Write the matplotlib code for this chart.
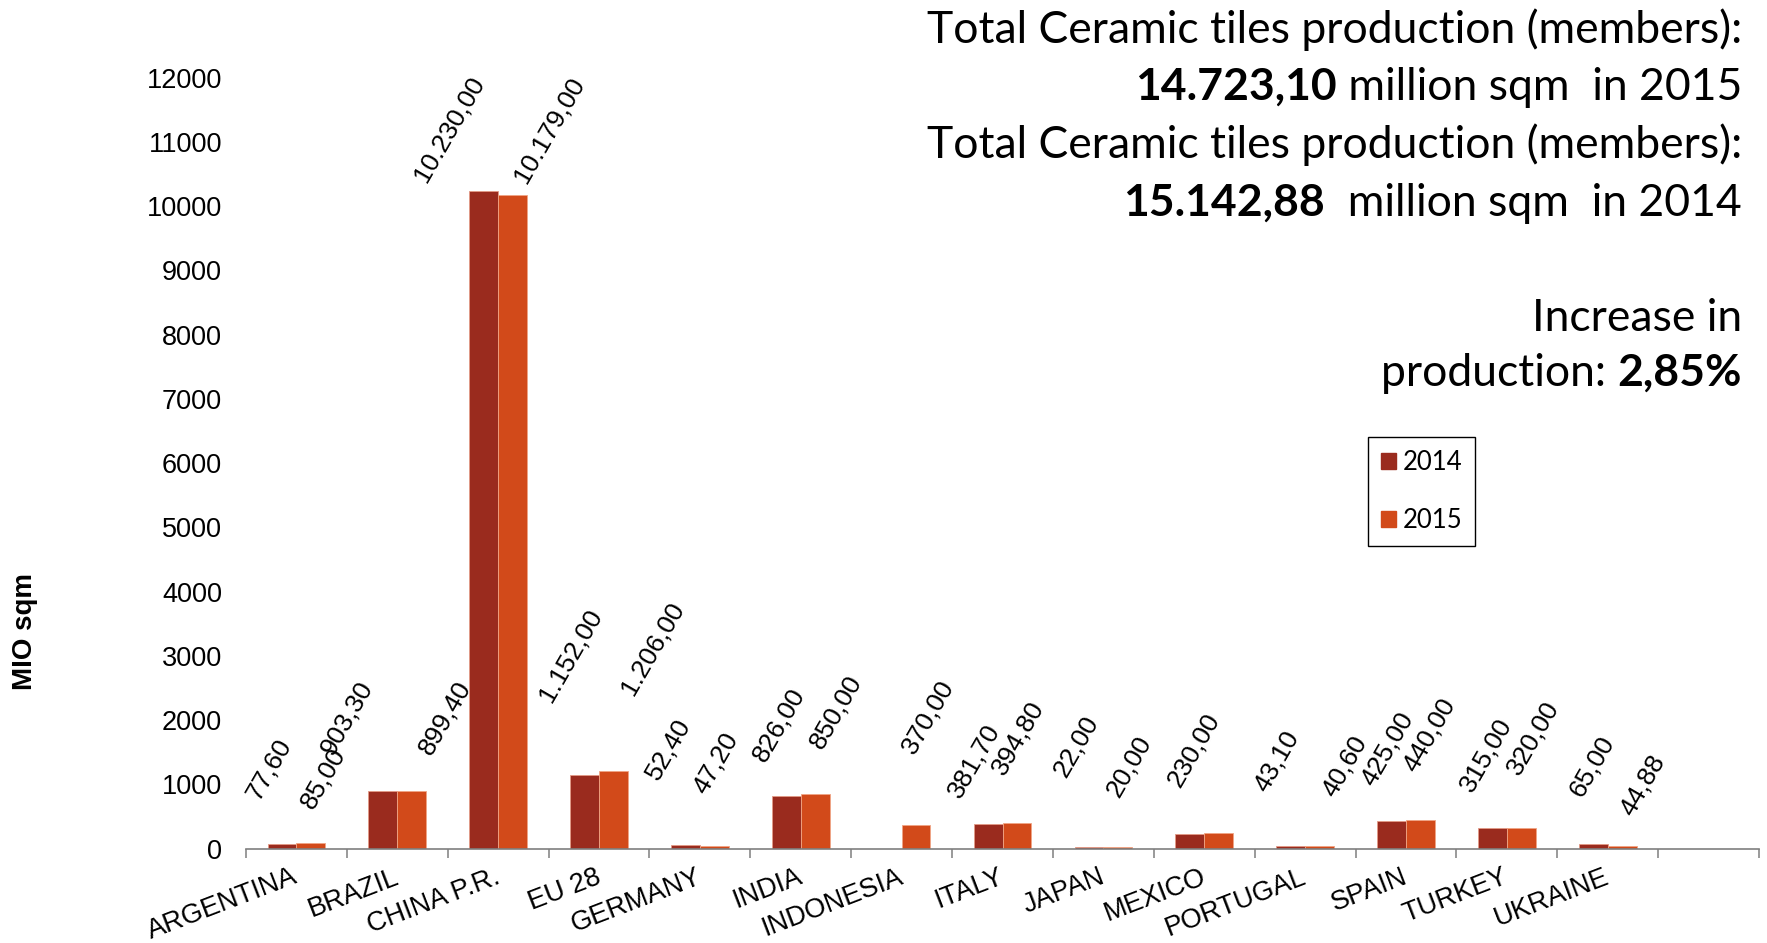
import numpy as np
import matplotlib
matplotlib.use("Agg")
import matplotlib.pyplot as plt
from matplotlib.patches import Patch
from matplotlib.transforms import ScaledTranslation

# production of ceramic tiles, million sqm
countries = ["ARGENTINA", "BRAZIL", "CHINA P.R.", "EU 28", "GERMANY", "INDIA",
             "INDONESIA", "ITALY", "JAPAN", "MEXICO", "PORTUGAL", "SPAIN",
             "TURKEY", "UKRAINE", ""]
prod_2014 = [77.60, 903.30, 10230.00, 1152.00, 52.40, 826.00, np.nan, 381.70,
             22.00, 230.00, 43.10, 425.00, 315.00, 65.00, np.nan]
prod_2015 = [85.00, 899.40, 10179.00, 1206.00, 47.20, 850.00, 370.00, 394.80,
             20.00, 250.00, 40.60, 440.00, 320.00, 44.88, np.nan]
# value labels that are not printed on the chart
no_label_2015 = {"MEXICO"}

total_2015 = "14.723,10"
total_2014 = "15.142,88"
increase = "2,85%"

# hand nudges for the rotated value labels (pixels from bar top centre)
nudge_2014 = [(-13, 74), (-36, 73), (-35, 62), (-14, 119), (-17, 96), (-7, 71),
              (0, 0), (-14, 63), (-13, 101), (4, 84), (-14, 85), (-4, 72),
              (-6, 73), (-1, 78), (0, 0)]
nudge_2015 = [(12, 65), (33, 73), (37, 65), (39, 123), (2, 82), (21, 82),
              (12, 108), (1, 85), (11, 81), (0, 0), (25, 80), (9, 85),
              (12, 90), (21, 60), (0, 0)]

C14 = "#9a2b1e"
C15 = "#d24a1a"
NUM_FONT = "Liberation Sans"
TXT_FONT = "Lato"

W, H = 1767, 943
fig = plt.figure(figsize=(W / 100, H / 100), dpi=100)
ax = fig.add_axes([246 / W, 1 - 848.6 / H, (1759 - 246) / W, (848.6 - 77.8) / H])

n = len(countries)
x = np.arange(n) + 0.5
bw = 1 / 3.5
y14 = np.array(prod_2014, dtype=float)
y15 = np.array(prod_2015, dtype=float)
ax.bar(x - bw / 2, np.nan_to_num(y14), bw, color=C14, edgecolor="#e39a86",
       linewidth=0.6, zorder=2)
ax.bar(x + bw / 2, np.nan_to_num(y15), bw, color=C15, edgecolor="#f0a585",
       linewidth=0.6, zorder=2)


def euro(v):
    s = f"{v:,.2f}"
    return s.replace(",", "#").replace(".", ",").replace("#", ".")


for i in range(n):
    for vals, nud, off, skip in ((y14, nudge_2014, -bw / 2, set()),
                                 (y15, nudge_2015, bw / 2, no_label_2015)):
        v = vals[i]
        if np.isnan(v) or countries[i] in skip:
            continue
        ax.annotate(euro(v), (x[i] + off, v), xytext=nud[i],
                    textcoords="offset pixels", rotation=60,
                    rotation_mode="anchor", ha="center", va="center",
                    fontsize=19, family=NUM_FONT, color="black", zorder=3)

ax.set_xlim(0, n)
ax.set_ylim(0, 12000)
for s in ("left", "top", "right"):
    ax.spines[s].set_visible(False)
ax.spines["bottom"].set_color("#7f7f7f")
ax.spines["bottom"].set_linewidth(1.2)

ax.set_yticks(range(0, 12001, 1000))
ax.tick_params(axis="y", length=0, pad=17.3, labelsize=19.5)
for lab in ax.get_yticklabels():
    lab.set_family(NUM_FONT)

ax.set_xticks(np.arange(n + 1))
ax.set_xticklabels([])
ax.tick_params(axis="x", which="major", length=6.5, width=1.1,
               color="#7f7f7f", direction="out")
ax.set_xticks(x, minor=True)
ax.set_xticklabels(countries, minor=True, rotation=21, ha="right", va="top",
                   fontsize=19.5, family=NUM_FONT)
ax.tick_params(axis="x", which="minor", length=0, pad=11)
shift = ScaledTranslation(5 / 100, 0, fig.dpi_scale_trans)
for lab in ax.get_xticklabels(minor=True):
    lab.set_transform(lab.get_transform() + shift)

fig.text(25 / W, 1 - 631 / H, "MIO sqm", rotation=90, ha="center",
         va="center", fontsize=20, fontweight="bold", family=NUM_FONT)

leg = ax.legend(handles=[Patch(color=C14, label="2014"),
                         Patch(color=C15, label="2015")],
                loc="upper left", bbox_to_anchor=(1368 / W, 1 - 437 / H),
                bbox_transform=fig.transFigure, borderaxespad=0,
                prop={"family": TXT_FONT, "size": 18.5},
                handlelength=0.6, handleheight=0.6, handletextpad=0.25,
                labelspacing=1.3, borderpad=0.5, fancybox=False,
                framealpha=1, edgecolor="black")
leg.get_frame().set_linewidth(1.0)

# right-aligned headline block, mixing regular and bold runs
renderer = fig.canvas.get_renderer()
XR = 1742


def headline(base_px, runs, size=32):
    xr = XR
    for txt, weight in reversed(runs):
        t = fig.text(xr / W, 1 - base_px / H, txt, ha="right", va="baseline",
                     fontsize=size, fontweight=weight, family=TXT_FONT)
        xr = t.get_window_extent(renderer=renderer).x0


headline(43, [("Total Ceramic tiles production (members):", "normal")])
headline(100, [(total_2015, "bold"), (" million sqm  in 2015", "normal")])
headline(158, [("Total Ceramic tiles production (members):", "normal")])
headline(216, [(total_2014, "bold"), ("  million sqm  in 2014", "normal")])
headline(331, [("Increase in", "normal")])
headline(386, [("production: ", "normal"), (increase, "bold")])

fig.savefig("out.png", dpi=100)
